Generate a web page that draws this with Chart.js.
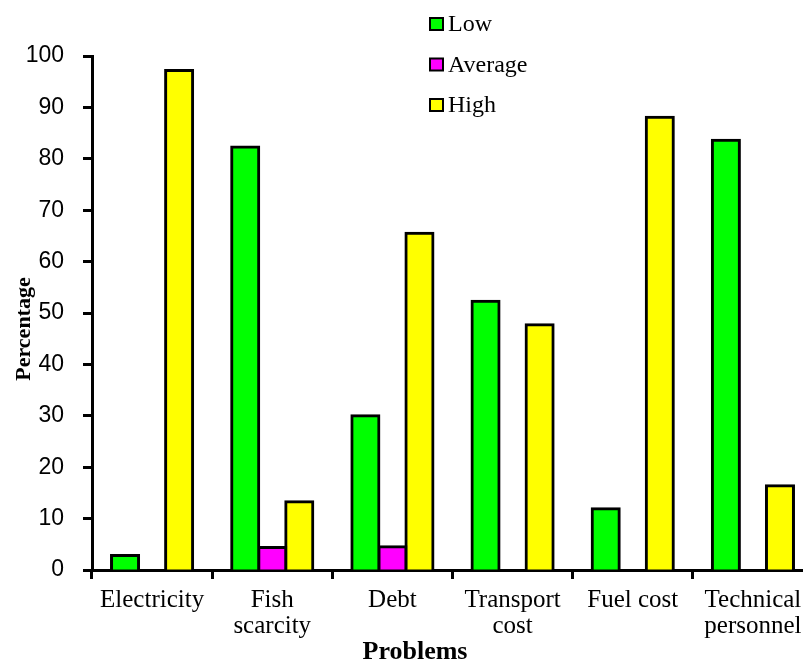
<!DOCTYPE html>
<html>
<head>
<meta charset="utf-8">
<script src="https://cdn.jsdelivr.net/npm/chart.js@4.4.1/dist/chart.umd.min.js"></script>
<style>
  html, body { margin: 0; padding: 0; background: #fff; overflow: hidden; }
  #wrap { width: 803px; height: 662px; overflow: hidden; position: relative; }
  canvas { display: block; }
</style>
</head>
<body>
<div id="wrap"><canvas id="chart" width="830" height="662"></canvas></div>
<script>
// Problems reported, share of respondents rating each as Low / Average / High
const categories = ['Electricity', ['Fish', 'scarcity'], 'Debt', ['Transport', 'cost'], 'Fuel cost', ['Technical', 'personnel']];
const lowValues = [2.8, 82.3, 30.0, 52.3, 11.9, 83.6];
const averageValues = [null, 4.4, 4.5, null, null, null];
const highValues = [97.2, 13.3, 65.5, 47.7, 88.1, 16.4];
const seriesNames = ['Low', 'Average', 'High'];
const yTicks = [0, 10, 20, 30, 40, 50, 60, 70, 80, 90, 100];

const seriesColors = ['#00ff00', '#ff00ff', '#ffff00'];

// Vertical legend in the upper middle of the figure
const sideLegend = {
  id: 'sideLegend',
  afterDraw(chart) {
    const ctx = chart.ctx;
    ctx.save();
    chart.data.datasets.forEach((ds, i) => {
      const cy = 24 + i * 40.5;
      ctx.fillStyle = ds.backgroundColor;
      ctx.fillRect(430, cy - 6, 13, 12);
      ctx.lineWidth = 2;
      ctx.strokeStyle = '#000';
      ctx.strokeRect(430, cy - 6, 13, 12);
      ctx.fillStyle = '#000';
      ctx.font = '24px "Liberation Serif", "Times New Roman", serif';
      ctx.textBaseline = 'alphabetic';
      ctx.textAlign = 'left';
      ctx.fillText(ds.label, 448, cy + 7);
    });
    ctx.restore();
  }
};

// Axis titles
const axisTitles = {
  id: 'axisTitles',
  afterDraw(chart) {
    const ctx = chart.ctx;
    ctx.save();
    ctx.fillStyle = '#000';
    ctx.font = 'bold 26px "Liberation Serif", "Times New Roman", serif';
    ctx.textAlign = 'center';
    ctx.textBaseline = 'alphabetic';
    ctx.fillText('Problems', 415, 659);
    ctx.translate(30, 329);
    ctx.rotate(-Math.PI / 2);
    ctx.font = 'bold 22px "Liberation Serif", "Times New Roman", serif';
    ctx.fillText('Percentage', 0, 0);
    ctx.restore();
  }
};

const makeSet = (label, data, color) => ({
  label,
  data,
  backgroundColor: color,
  borderColor: '#000',
  borderWidth: 3,
  borderSkipped: 'start',
  inflateAmount: 1.5,
  categoryPercentage: 0.675,
  barPercentage: 1.0
});

new Chart(document.getElementById('chart'), {
  type: 'bar',
  data: {
    labels: categories,
    datasets: [
      makeSet(seriesNames[0], lowValues, seriesColors[0]),
      makeSet(seriesNames[1], averageValues, seriesColors[1]),
      makeSet(seriesNames[2], highValues, seriesColors[2])
    ]
  },
  plugins: [sideLegend, axisTitles],
  options: {
    responsive: false,
    animation: false,
    devicePixelRatio: 1,
    layout: { padding: { top: 56, right: 17, bottom: 0, left: 0 } },
    plugins: {
      legend: { display: false },
      tooltip: { enabled: false },
      title: { display: false }
    },
    scales: {
      x: {
        offset: true,
        grid: {
          display: true,
          offset: true,
          drawOnChartArea: false,
          drawTicks: true,
          tickLength: 9,
          tickWidth: 3,
          tickColor: '#000'
        },
        border: { display: true, color: '#000', width: 3 },
        ticks: {
          color: '#000',
          maxRotation: 0,
          autoSkip: false,
          padding: 8,
          font: { family: '"Liberation Serif", "Times New Roman", serif', size: 25, lineHeight: 1.05 }
        },
        afterFit(scale) { scale.height = 92; }
      },
      y: {
        min: 0,
        max: 100,
        afterBuildTicks(scale) { scale.ticks = yTicks.map(v => ({ value: v })); },
        grid: {
          display: true,
          drawOnChartArea: false,
          drawTicks: true,
          tickLength: 9,
          tickWidth: 3,
          tickColor: '#000'
        },
        border: { display: true, color: '#000', width: 3 },
        ticks: {
          color: '#000',
          padding: 19,
          font: { family: '"Liberation Sans", Arial, sans-serif', size: 23 }
        },
        afterFit(scale) { scale.width = 92; }
      }
    }
  }
});
</script>
</body>
</html>
